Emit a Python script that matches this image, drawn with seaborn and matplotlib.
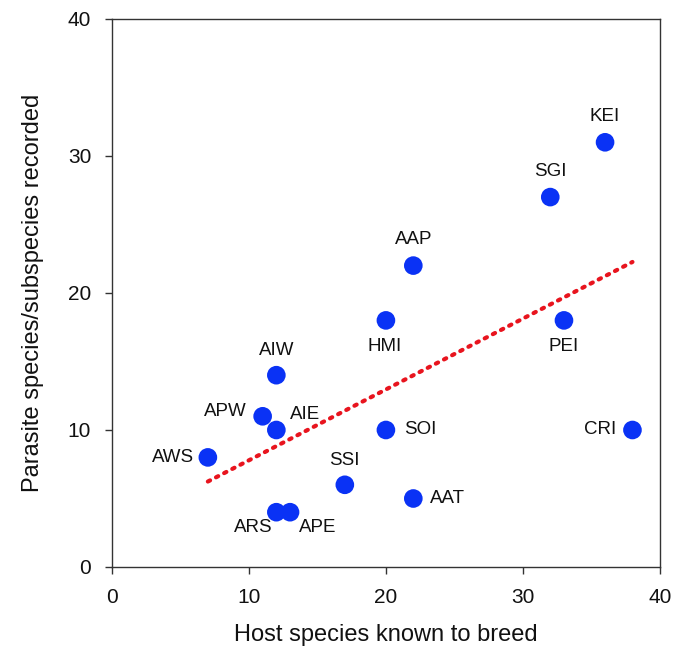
import numpy as np
import pandas as pd
import matplotlib
matplotlib.use("Agg")
import matplotlib.pyplot as plt
import seaborn as sns

# island codes, host species known to breed, parasite species recorded
sites = ["AWS", "APW", "AIE", "AIW", "ARS", "APE", "SSI", "HMI", "SOI",
         "AAP", "AAT", "SGI", "PEI", "KEI", "CRI"]
hosts = [7, 11, 12, 12, 12, 13, 17, 20, 20, 22, 22, 32, 33, 36, 38]
parasites = [8, 11, 10, 14, 4, 4, 6, 18, 10, 22, 5, 27, 18, 31, 10]

df = pd.DataFrame({"site": sites, "hosts": hosts, "parasites": parasites})

sns.set_style("ticks")
plt.rcParams["font.family"] = ["Liberation Sans", "DejaVu Sans"]
plt.rcParams["text.color"] = "#111111"
plt.rcParams["axes.labelcolor"] = "#111111"
plt.rcParams["xtick.labelcolor"] = "#111111"
plt.rcParams["ytick.labelcolor"] = "#111111"

fig = plt.figure(figsize=(6.9, 6.48), dpi=100)
ax = fig.add_axes([0.1623, 0.125, 0.794, 0.8457])

#least squares line, drawn over the range of the data
slope, icpt = np.polyfit(df["hosts"], df["parasites"], 1)
xs = np.array([df["hosts"].min(), df["hosts"].max()])
ax.plot(xs, slope * xs + icpt, color="#e8141e", lw=3,
        linestyle=(0, (0.6, 1.6)), dash_capstyle="round", zorder=2)

sns.scatterplot(data=df, x="hosts", y="parasites", ax=ax, s=180,
                color="#0a32f5", edgecolor="none", zorder=3)

#label placement (offset in pixels, alignment)
place = {
    "AWS": ((-14, 0), "right"),
    "APW": ((-16, 5), "right"),
    "AIE": ((14, 15), "left"),
    "AIW": ((0, 25), "center"),
    "ARS": ((-23, -15), "center"),
    "APE": ((28, -15), "center"),
    "SSI": ((0, 24), "center"),
    "HMI": ((-1, -26), "center"),
    "SOI": ((18, 0), "left"),
    "AAP": ((0, 26), "center"),
    "AAT": ((17, 0), "left"),
    "SGI": ((0, 26), "center"),
    "PEI": ((0, -26), "center"),
    "KEI": ((0, 26), "center"),
    "CRI": ((-16, 0), "right"),
}
for s, x, y in zip(df["site"], df["hosts"], df["parasites"]):
    off, ha = place[s]
    ax.annotate(s, (x, y), xytext=off, textcoords="offset pixels",
                ha=ha, va="center", fontsize=13.5)

ax.set_xlim(0, 40)
ax.set_ylim(0, 40)
ax.set_xticks([0, 10, 20, 30, 40])
ax.set_yticks([0, 10, 20, 30, 40])
ax.tick_params(labelsize=15, length=5, width=1, color="#333333", pad=10)
for sp in ax.spines.values():
    sp.set_color("#333333")
    sp.set_linewidth(1)
ax.set_xlabel("Host species known to breed", fontsize=17, labelpad=12)
ax.set_ylabel("Parasite species/subspecies recorded", fontsize=17, labelpad=17)

fig.savefig("out.png", dpi=100)
